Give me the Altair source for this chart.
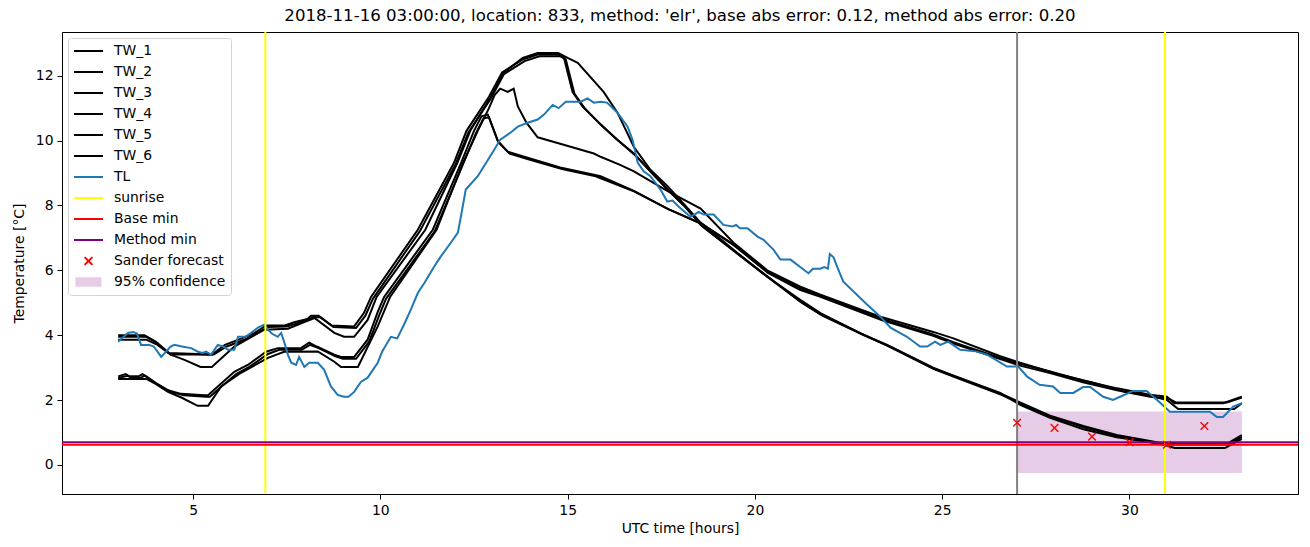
import altair as alt
import pandas as pd

TITLE = ("2018-11-16 03:00:00, location: 833, method: 'elr', "
         "base abs error: 0.12, method abs error: 0.20")

# ---------------- TW series (hours, temperature) ----------------
tw1_hours = [3.0, 3.7, 4.0, 4.35, 5.5, 5.85, 6.3, 6.65, 6.95, 7.45, 7.7, 8.05, 8.15, 8.35, 8.7, 9.3, 9.56,
             9.75, 11.0, 11.96, 12.3, 12.9, 13.25, 13.8, 14.2, 14.75, 14.9, 15.13, 15.4, 15.88, 16.3, 16.77,
             17.21, 17.66, 18.1, 18.55, 19.43, 20.33, 21.2, 21.75, 22.84, 23.53, 24.76, 25.3, 26.55, 27.08,
             27.88, 28.77, 29.66, 30.55, 30.8, 31.1, 32.6, 33.0]
tw1_temp = [4.0, 4.0, 3.8, 3.45, 3.4, 3.7, 3.9, 4.07, 4.3, 4.3, 4.4, 4.5, 4.6, 4.6, 4.3, 4.27, 4.68,
            5.18, 7.25, 9.3, 10.3, 11.35, 12.1, 12.5, 12.65, 12.65, 12.56, 11.5, 11.05, 10.5, 10.05, 9.6,
            9.05, 8.5, 8.0, 7.4, 6.6, 5.8, 5.05, 4.65, 4.05, 3.7, 3.0, 2.75, 2.2, 1.93,
            1.52, 1.2, 0.92, 0.74, 0.68, 0.65, 0.65, 0.92]

tw2_hours = [3.0, 3.75, 4.05, 4.4, 5.55, 5.9, 6.35, 6.7, 7.0, 7.5, 7.75, 8.1, 8.2, 8.4, 8.75, 9.35, 9.6,
             9.8, 11.05, 12.0, 12.35, 12.95, 13.3, 13.85, 14.25, 14.8, 14.95, 15.18, 15.45, 15.92, 16.35,
             16.8, 17.25, 17.7, 18.15, 18.6, 19.5, 20.4, 21.25, 21.8, 22.9, 23.6, 24.8, 25.35, 26.6, 27.1,
             27.92, 28.8, 29.7, 30.6, 30.85, 31.15, 32.65, 33.0]
tw2_temp = [3.95, 3.95, 3.75, 3.4, 3.4, 3.65, 3.85, 4.05, 4.25, 4.27, 4.35, 4.5, 4.55, 4.55, 4.25, 4.22, 4.6,
            5.12, 7.2, 9.25, 10.25, 11.3, 12.05, 12.45, 12.6, 12.6, 12.5, 11.45, 11.0, 10.45, 10.0,
            9.55, 9.0, 8.45, 7.95, 7.35, 6.55, 5.75, 5.0, 4.6, 4.0, 3.65, 2.95, 2.7, 2.15, 1.88,
            1.48, 1.15, 0.88, 0.7, 0.66, 0.63, 0.63, 0.86]

tw3_hours = [3.0, 3.75, 4.05, 4.4, 4.77, 5.2, 5.5, 6.1, 6.9, 7.53, 7.97, 8.24, 8.77, 9.03, 9.3, 9.66,
             9.9, 11.2, 12.05, 12.4, 12.95, 13.3, 13.8, 14.2, 14.75, 15.0, 15.27, 15.96, 16.33, 16.77,
             17.21, 17.66, 18.0, 18.55, 19.43, 20.33, 21.2, 21.75, 22.84, 23.53, 24.76, 25.3, 26.55, 27.08,
             27.88, 28.77, 29.66, 30.55, 31.0, 31.2, 32.55, 33.0]
tw3_temp = [3.86, 3.86, 3.7, 3.4, 3.24, 3.02, 3.02, 3.65, 4.17, 4.2, 4.4, 4.53, 4.07, 3.95, 3.95, 4.47,
            5.18, 7.25, 9.3, 10.3, 11.35, 12.1, 12.55, 12.7, 12.7, 12.55, 12.4, 11.5, 10.86, 9.8,
            9.1, 8.6, 8.18, 7.47, 6.63, 5.8, 5.1, 4.68, 4.05, 3.68, 2.97, 2.75, 2.22, 1.85,
            1.45, 1.1, 0.85, 0.7, 0.6, 0.52, 0.52, 0.8]

tw4_hours = [3.0, 3.2, 3.3, 3.55, 3.65, 3.75, 4.0, 4.33, 4.68, 5.3, 5.4, 5.66, 6.1, 6.46, 6.95, 7.26,
             7.88, 8.1, 8.3, 8.77, 8.95, 9.3, 9.66, 9.93, 10.1, 11.4, 12.15, 12.5, 12.7, 12.87, 13.13,
             13.4, 13.93, 14.8, 15.7, 15.88, 16.77, 17.66, 18.55, 19.43, 20.33, 21.2, 21.75, 23.4, 24.76,
             25.3, 26.55, 27.08, 27.88, 28.76, 29.67, 30.55, 31.0, 31.2, 32.5, 33.0]
tw4_temp = [2.73, 2.8, 2.73, 2.73, 2.8, 2.73, 2.53, 2.3, 2.19, 2.15, 2.15, 2.42, 2.87, 3.08, 3.49, 3.6,
            3.6, 3.77, 3.65, 3.4, 3.33, 3.33, 3.86, 4.72, 5.18, 7.25, 9.3, 10.3, 10.75, 10.8, 10.0,
            9.66, 9.47, 9.17, 8.95, 8.9, 8.45, 7.9, 7.45, 6.8, 5.95, 5.45, 5.22, 4.5, 4.02,
            3.78, 3.3, 3.12, 2.88, 2.6, 2.36, 2.16, 2.1, 1.9, 1.9, 2.1]

tw5_hours = [3.0, 3.25, 3.35, 3.6, 3.7, 3.8, 4.05, 4.4, 4.75, 5.35, 5.45, 5.72, 6.15, 6.5, 7.0, 7.3,
             7.9, 8.12, 8.35, 8.8, 9.0, 9.35, 9.7, 9.97, 10.15, 11.45, 12.18, 12.55, 12.75, 12.9, 13.15,
             13.45, 13.95, 14.85, 15.75, 16.8, 17.7, 18.6, 19.45, 20.35, 21.2, 21.75, 23.4, 24.76,
             25.3, 26.55, 27.08, 27.88, 28.76, 29.67, 30.55, 31.05, 31.25, 32.6, 33.0]
tw5_temp = [2.68, 2.75, 2.68, 2.68, 2.75, 2.68, 2.48, 2.25, 2.15, 2.1, 2.1, 2.38, 2.8, 3.02, 3.42, 3.55,
            3.55, 3.7, 3.6, 3.35, 3.27, 3.27, 3.8, 4.62, 5.12, 7.2, 9.2, 10.22, 10.68, 10.72, 9.95,
            9.6, 9.42, 9.12, 8.9, 8.42, 7.88, 7.42, 6.76, 5.92, 5.4, 5.18, 4.46, 3.98,
            3.74, 3.26, 3.06, 2.83, 2.55, 2.3, 2.1, 2.04, 1.92, 1.92, 2.08]

tw6_hours = [3.0, 3.75, 4.0, 4.33, 4.7, 5.12, 5.4, 5.75, 6.28, 7.0, 7.43, 8.33, 8.77, 8.95, 9.4, 9.93,
             10.26, 11.5, 12.2, 12.6, 12.9, 13.05, 13.2, 13.4, 13.56, 13.67, 13.9, 14.2, 14.8, 15.7, 15.88,
             16.4, 16.77, 17.66, 18.55, 19.43, 20.33, 21.2, 21.75, 23.4, 24.76, 25.3, 26.55, 27.08, 28.15,
             29.03, 29.9, 30.5, 31.0, 31.3, 32.8, 33.0]
tw6_temp = [2.65, 2.65, 2.5, 2.25, 2.07, 1.82, 1.82, 2.42, 2.84, 3.3, 3.49, 3.5, 3.18, 3.02, 3.02, 4.27,
            5.18, 7.25, 9.3, 10.3, 11.0, 11.4, 11.6, 11.5, 11.6, 11.05, 10.55, 10.1, 9.9, 9.6, 9.5,
            9.25, 9.05, 8.45, 7.9, 6.85, 6.0, 5.5, 5.25, 4.55, 4.1, 3.9, 3.35, 3.15, 2.78,
            2.53, 2.25, 2.15, 2.0, 1.72, 1.72, 1.9]

# ---------------- TL series ----------------
tl_hours = [3.0, 3.26, 3.4, 3.5, 3.61, 3.83, 3.95, 4.15, 4.28, 4.4, 4.5, 4.7, 4.95, 5.13, 5.25, 5.35,
            5.48, 5.66, 5.8, 5.93, 6.1, 6.2, 6.4, 6.55, 6.73, 6.9, 7.0, 7.1, 7.26, 7.35, 7.43, 7.53,
            7.62, 7.75, 7.83, 7.97, 8.1, 8.33, 8.5, 8.68, 8.86, 9.03, 9.15, 9.3, 9.48, 9.66, 9.93,
            10.05, 10.28, 10.45, 10.63, 10.81, 11.0, 11.17, 11.43, 11.61, 11.88, 12.07, 12.15, 12.28,
            12.6, 12.87, 13.04, 13.2, 13.48, 13.67, 13.93, 14.2, 14.37, 14.6, 14.76, 14.95, 15.35,
            15.53, 15.7, 15.88, 16.05, 16.33, 16.6, 16.73, 16.87, 17.03, 17.21, 17.48, 17.66, 17.8,
            17.96, 18.28, 18.5, 18.63, 18.9, 19.16, 19.4, 19.5, 19.6, 19.8, 20.07, 20.23, 20.5, 20.68,
            20.95, 21.21, 21.43, 21.55, 21.75, 21.85, 21.95, 22.0, 22.1, 22.2, 22.36, 23.0, 23.35,
            23.62, 24.06, 24.41, 24.6, 24.81, 24.95, 25.16, 25.48, 25.9, 26.2, 26.73, 27.03, 27.27,
            27.6, 27.96, 28.15, 28.5, 28.76, 28.95, 29.3, 29.56, 29.75, 30.1, 30.46, 30.74, 31.08,
            32.15, 32.33, 32.5, 32.77, 33.0]
tl_temp = [3.8, 4.07, 4.1, 4.05, 3.7, 3.7, 3.65, 3.33, 3.49, 3.65, 3.7, 3.65, 3.6, 3.49, 3.45, 3.49,
           3.4, 3.7, 3.65, 3.55, 3.55, 3.95, 3.95, 4.07, 4.23, 4.32, 4.17, 4.05, 3.95, 4.07, 3.8, 3.4,
           3.15, 3.08, 3.33, 3.02, 3.15, 3.15, 2.93, 2.42, 2.16, 2.1, 2.1, 2.25, 2.56, 2.69, 3.15,
           3.5, 3.95, 3.9, 4.32, 4.78, 5.3, 5.6, 6.1, 6.42, 6.85, 7.16, 7.65, 8.49,
           8.9, 9.4, 9.72, 10.03, 10.25, 10.43, 10.55, 10.65, 10.8, 11.1, 11.0, 11.2, 11.2,
           11.3, 11.17, 11.2, 11.17, 10.86, 10.43, 10.03, 9.32, 9.05, 8.9, 8.49, 8.12, 8.15,
           7.97, 7.65, 7.8, 7.72, 7.72, 7.4, 7.35, 7.4, 7.3, 7.3, 7.04, 6.94, 6.63, 6.33,
           6.33, 6.1, 5.91, 6.05, 6.05, 6.1, 6.05, 6.5, 6.4, 6.1, 5.65, 4.94, 4.57,
           4.23, 3.95, 3.65, 3.65, 3.8, 3.7, 3.8, 3.55, 3.5, 3.4, 3.03, 3.03, 2.72,
           2.47, 2.42, 2.22, 2.22, 2.4, 2.4, 2.1, 2.0, 2.1, 2.28, 2.28, 2.0, 1.64,
           1.64, 1.48, 1.48, 1.8, 1.9]

# ---------------- other elements ----------------
sunrise_hours = [6.93, 30.95]
forecast_hour = [27.0]
base_min = [0.62]
method_min = [0.70]
sander_hours = [27.0, 28.0, 29.0, 30.0, 31.0, 32.0]
sander_temp = [1.3, 1.14, 0.87, 0.7, 0.62, 1.2]
band_start, band_end = [27.0], [33.0]
band_low, band_high = [-0.25], [1.65]

legend_labels = ["TW_1", "TW_2", "TW_3", "TW_4", "TW_5", "TW_6", "TL", "sunrise",
                 "Base min", "Method min", "Sander forecast", "95% confidence"]

# ---------------- build tables ----------------
tw_sets = [("TW_1", tw1_hours, tw1_temp), ("TW_2", tw2_hours, tw2_temp),
           ("TW_3", tw3_hours, tw3_temp), ("TW_4", tw4_hours, tw4_temp),
           ("TW_5", tw5_hours, tw5_temp), ("TW_6", tw6_hours, tw6_temp)]
rows = []
for name, hs, ts in tw_sets:
    for h, t in zip(hs, ts):
        rows.append({"series": name, "hour": h, "temp": t})
tw_df = pd.DataFrame(rows)
tl_df = pd.DataFrame({"hour": tl_hours, "temp": tl_temp})
sun_df = pd.DataFrame({"hour": sunrise_hours})
fc_df = pd.DataFrame({"hour": forecast_hour})
base_df = pd.DataFrame({"temp": base_min})
meth_df = pd.DataFrame({"temp": method_min})
sander_df = pd.DataFrame({"hour": sander_hours, "temp": sander_temp})
band_df = pd.DataFrame({"hour": band_start, "hour2": band_end, "temp": band_low, "temp2": band_high})
leg_df = pd.DataFrame({"label": legend_labels, "hour": [80.0] * 12, "temp": [50.0] * 12})

x_scale = alt.Scale(domain=[1.5, 34.5], nice=False, zero=False)
y_scale = alt.Scale(domain=[-0.8975, 13.3475], nice=False, zero=False)

FS = 13.9


def X():
    return alt.X("hour:Q", scale=x_scale,
                 axis=alt.Axis(title="UTC time [hours]", values=[5, 10, 15, 20, 25, 30],
                               format="d", grid=False, titlePadding=5))


def Y():
    return alt.Y("temp:Q", scale=y_scale,
                 axis=alt.Axis(title="Temperature [°C]", values=[0, 2, 4, 6, 8, 10, 12],
                               format="d", grid=False, titlePadding=9))


band = alt.Chart(band_df).mark_rect(fill="purple", opacity=0.2).encode(
    x=X(), x2="hour2:Q", y=Y(), y2="temp2:Q")

tw_lines = alt.Chart(tw_df).mark_line(color="black", strokeWidth=2).encode(
    x=X(), y=Y(), detail="series:N")

tl_line = alt.Chart(tl_df).mark_line(color="#1f77b4", strokeWidth=2).encode(x=X(), y=Y())

sun_rules = alt.Chart(sun_df).mark_rule(color="yellow", strokeWidth=2).encode(x=X())
fc_rule = alt.Chart(fc_df).mark_rule(color="gray", strokeWidth=2).encode(x=X())
base_rule = alt.Chart(base_df).mark_rule(color="red", strokeWidth=2).encode(y=Y())
meth_rule = alt.Chart(meth_df).mark_rule(color="purple", strokeWidth=2).encode(y=Y())

sander = alt.Chart(sander_df).mark_point(
    shape="M-1,-1L1,1M-1,1L1,-1", size=58, stroke="red", strokeWidth=1.4,
    filled=False, opacity=1).encode(x=X(), y=Y())

line_sym = "stroke"
x_sym = "M-0.27,-0.27L0.27,0.27M-0.27,0.27L0.27,-0.27"
rect_sym = "M-0.9,-0.32H0.9V0.32H-0.9Z"
sym_shapes = [line_sym] * 10 + [x_sym, rect_sym]
sym_strokes = ["black"] * 6 + ["#1f77b4", "yellow", "red", "purple", "red", "transparent"]
sym_fills = ["transparent"] * 11 + ["#e6cce6"]

leg = dict(title=None, orient="top-left", offset=6, padding=5, fillColor="white",
           strokeColor="#d3d3d3", cornerRadius=3, symbolSize=841, symbolStrokeWidth=2,
           labelFont="DejaVu Sans", labelFontSize=FS, labelColor="black", labelOffset=10,
           rowPadding=5, clipHeight=16, symbolOpacity=1)

legend_layer = alt.Chart(leg_df).mark_point(clip=True, opacity=1, strokeWidth=2).encode(
    x=X(), y=Y(),
    shape=alt.Shape("label:N", scale=alt.Scale(domain=legend_labels, range=sym_shapes),
                    legend=alt.Legend(**leg)),
    stroke=alt.Stroke("label:N", scale=alt.Scale(domain=legend_labels, range=sym_strokes),
                      legend=alt.Legend(**leg)),
    fill=alt.Fill("label:N", scale=alt.Scale(domain=legend_labels, range=sym_fills),
                  legend=alt.Legend(**leg)),
)

chart = alt.layer(
    band, tw_lines, tl_line, sun_rules, fc_rule, base_rule, meth_rule, sander, legend_layer
).properties(
    width=1236, height=462,
    padding={"left": 62, "top": 32, "right": 12, "bottom": 53},
    autosize=alt.AutoSizeParams(type="none"),
    title=alt.TitleParams(TITLE, anchor="middle", fontSize=16.6, font="DejaVu Sans",
                          fontWeight="normal", color="black", offset=6),
).configure_view(
    stroke="black", strokeWidth=1
).configure_axis(
    labelFont="DejaVu Sans", labelFontSize=FS, labelColor="black",
    titleFont="DejaVu Sans", titleFontSize=FS, titleFontWeight="normal", titleColor="black",
    tickColor="black", tickSize=5, tickWidth=1, domainColor="black", domainWidth=1,
    labelPadding=4
)

chart.save("out.html", embed_options={"renderer": "svg", "actions": False})
